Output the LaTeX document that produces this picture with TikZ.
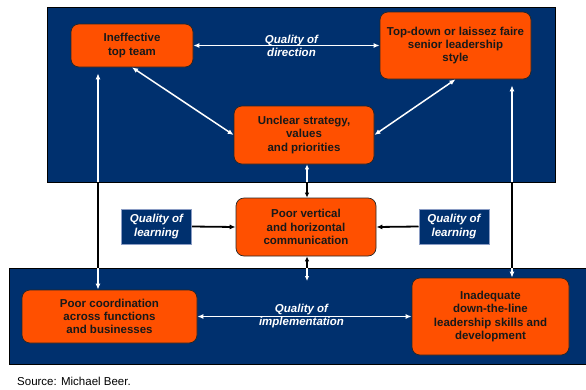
\documentclass[tikz,border=0pt]{standalone}
\usepackage{fontspec}
\setmainfont{Liberation Sans}
\usetikzlibrary{arrows.meta}
\definecolor{navy}{HTML}{00306E}
\definecolor{boxorange}{HTML}{FF5000}
\definecolor{edgeblue}{HTML}{8A9CC4}

% vertical two-way connectors, drawn once per colour
\newcommand{\risers}[1]{%
  \draw[riser,#1] (lx |- tt.south) -- (lx |- pc.north);
  \draw[riser,#1] (rx |- td.south) -- (rx |- inad.north);
  \draw[shortriser,#1] (vx |- strat.south) -- (vx |- comm.north);
  \draw[shortriser,#1] (vx |- comm.south) -- (vx |- below);
}

\begin{document}
\begin{tikzpicture}[x=1pt,y=-1pt,
  txt/.style={font=\fontsize{11.5}{13.3}\selectfont\bfseries},
  panel/.style={fill=navy,draw=black,line width=0.8pt},
  issue/.style={txt,draw=black!85,line width=0.7pt,fill=boxorange,
    rounded corners=8pt,align=center,text=black!90,inner sep=0pt},
  learnbox/.style={txt,font=\fontsize{11.5}{13.3}\selectfont\bfseries\itshape,
    fill=navy,draw=edgeblue,line width=1pt,text=white,align=center,
    inner sep=0pt,minimum width=70pt,minimum height=35pt},
  qlabel/.style={font=\fontsize{11.5}{13}\selectfont\bfseries\itshape,
    text=white,align=center,inner sep=0pt},
  tip/.style={{Latex[length=6pt,width=5pt]}-{Latex[length=6pt,width=5pt]}},
  wline/.style={draw=white,line width=1.5pt,tip},
  riser/.style={line width=1.8pt,tip,shorten <=6pt},
  shortriser/.style={line width=1.5pt,{Latex[length=5pt,width=4.5pt]}-{Latex[length=5pt,width=4.5pt]}},
  bline/.style={draw=black,line width=1.8pt,-{Latex[length=6pt,width=5pt]}}
]
\useasboundingbox (0,0) rectangle (586,389);

% background panels
\fill[white] (0,0) rectangle (586,389);
\draw[panel] (47,7) rectangle (555,182);
\draw[panel] (9,268) rectangle (590,364);

% issue boxes
\node[issue,minimum width=122pt,minimum height=43pt] (tt) at (132,45.5)
  {Ineffective\\top team};
\node[issue,minimum width=151pt,minimum height=67pt] (td) at (455.5,45.5)
  {Top-down or laissez faire\\senior leadership\\style};
\node[issue,minimum width=140pt,minimum height=58pt] (strat) at (304,135)
  {Unclear strategy,\\values\\and priorities};
\node[issue,minimum width=140pt,minimum height=58pt] (comm) at (306,227)
  {Poor vertical\\and horizontal\\communication};
\node[issue,minimum width=175pt,minimum height=53pt] (pc) at (109.5,316.5)
  {Poor coordination\\across functions\\and businesses};
\node[issue,minimum width=157pt,minimum height=77pt] (inad) at (490.5,316.5)
  {Inadequate\\down-the-line\\leadership skills and\\development};

\node[learnbox] (ll) at (156.5,226.5) {Quality of\\learning};
\node[learnbox] (lr) at (454,226.5) {Quality of\\learning};

% reference points for the vertical connectors
\coordinate (lx) at (98,0);
\coordinate (rx) at (512,0);
\coordinate (vx) at (307,0);
\coordinate (below) at (307,281);

% connectors inside the panels
\draw[wline] (tt.east) -- (td.west)
  node[qlabel,midway,xshift=5pt] {Quality of\\direction};
\draw[wline] (tt.south) -- (strat.west);
\draw[wline] (td.south) -- (strat.east);
\draw[wline] (pc.east) -- (inad.west)
  node[qlabel,midway,xshift=-3pt] {Quality of\\implementation};

% learning feeds
\draw[bline] (ll.east) -- (comm.west);
\draw[bline] (lr.west) -- (comm.east);

% vertical connectors: white on the panels, black in the gap between them
\risers{white}
\begin{scope}
  \clip (0,182.4) rectangle (586,267.6);
  \risers{black}
\end{scope}

\node[anchor=west,font=\fontsize{11.5}{13}\selectfont,inner sep=0pt] (src) at (17,381)
  {Source: Michael Beer.};
\end{tikzpicture}
\end{document}
